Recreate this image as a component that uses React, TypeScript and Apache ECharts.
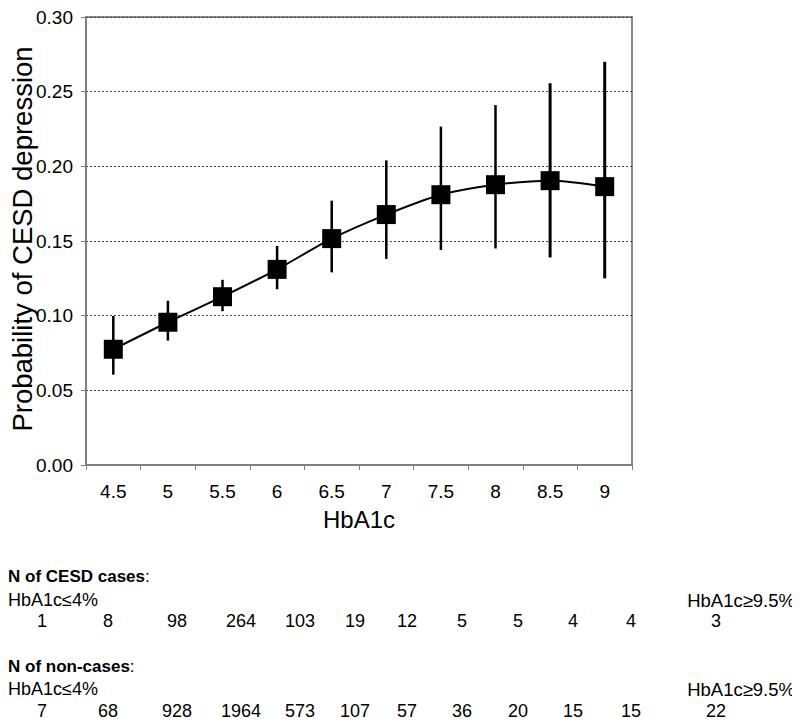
import React, { useEffect, useRef } from "react";
import * as echarts from "echarts";

const categories = ["4.5", "5", "5.5", "6", "6.5", "7", "7.5", "8", "8.5", "9"];
const probability = [0.0775, 0.0956, 0.1127, 0.131, 0.1516, 0.1677, 0.181, 0.1877, 0.1904, 0.1864];
const lowerCI = [0.0605, 0.0833, 0.103, 0.1177, 0.129, 0.138, 0.144, 0.145, 0.139, 0.125];
const upperCI = [0.0998, 0.110, 0.124, 0.1467, 0.177, 0.204, 0.2266, 0.241, 0.2556, 0.270];
const yTicks = [0, 0.05, 0.1, 0.15, 0.2, 0.25, 0.3];
const yAxisTitle = "Probability of CESD depression";

const casesCounts = ["1", "8", "98", "264", "103", "19", "12", "5", "5", "4", "4", "3"];
const nonCasesCounts = ["7", "68", "928", "1964", "573", "107", "57", "36", "20", "15", "15", "22"];
const countColumnsX = [42, 108, 177, 241, 300, 355, 407, 462, 518, 573, 631, 716];

const FONT = "'Liberation Sans', Arial, sans-serif";

export default function App() {
  const ref = useRef<HTMLDivElement>(null);
  useEffect(() => {
    if (!ref.current) return;
    const chart = echarts.init(ref.current, undefined, { renderer: "svg" });

    const graphics: any[] = [];
    const addText = (text: string, x: number, y: number, align: string = "left", rich?: any, size = 18) => {
      graphics.push({
        type: "text",
        x,
        y,
        style: {
          text,
          fontFamily: FONT,
          fontSize: size,
          fill: "#000",
          align,
          verticalAlign: "middle",
          rich,
        },
      });
    };
    const richHead = {
      b: { fontFamily: FONT, fontSize: 17, fontWeight: "bold", fill: "#000" },
      n: { fontFamily: FONT, fontSize: 17, fill: "#000" },
    };
    graphics.push({
      type: "text",
      x: 22,
      y: 239,
      rotation: Math.PI / 2,
      style: {
        text: yAxisTitle,
        fontFamily: FONT,
        fontSize: 27.5,
        fill: "#000",
        align: "center",
        verticalAlign: "middle",
      },
    });
    addText("{b|N of CESD cases}{n|:}", 8, 576, "left", richHead, 17);
    addText("HbA1c≤4%", 8, 600);
    addText("HbA1c≥9.5%", 795, 600, "right", undefined, 18.5);
    casesCounts.forEach((c, i) => addText(c, countColumnsX[i], 621, "center"));
    addText("{b|N of non-cases}{n|:}", 8, 666, "left", richHead, 17);
    addText("HbA1c≤4%", 8, 689);
    addText("HbA1c≥9.5%", 795, 689, "right", undefined, 18.5);
    nonCasesCounts.forEach((c, i) => addText(c, countColumnsX[i], 711, "center"));

    chart.setOption({
      animation: false,
      textStyle: { fontFamily: FONT },
      grid: {
        left: 86,
        right: 168,
        top: 17,
        bottom: 262,
        containLabel: false,
        outerBoundsMode: "none",
        show: true,
        borderColor: "#8a8a8a",
        borderWidth: 2,
        backgroundColor: "transparent",
      },
      xAxis: {
        type: "category",
        data: categories,
        boundaryGap: true,
        name: "HbA1c",
        nameLocation: "middle",
        nameGap: 42,
        nameTextStyle: { fontSize: 24, color: "#000", fontFamily: FONT },
        axisLine: { lineStyle: { color: "#808080", width: 2 } },
        axisTick: { show: true, length: 5, lineStyle: { color: "#808080", width: 1 } },
        axisLabel: { fontSize: 19, color: "#000", margin: 17, fontFamily: FONT },
        splitLine: { show: false },
      },
      yAxis: {
        type: "value",
        min: 0,
        max: 0.3,
        interval: 0.05,
        axisLine: { show: true, lineStyle: { color: "#808080", width: 2 } },
        axisTick: { show: true, length: 5, lineStyle: { color: "#808080", width: 1 } },
        axisLabel: {
          fontSize: 19,
          color: "#000",
          margin: 13,
          fontFamily: FONT,
          formatter: (v: number) => (yTicks.some((t) => Math.abs(t - v) < 1e-9) ? v.toFixed(2) : ""),
        },
        splitLine: { show: true, lineStyle: { color: "#444", width: 1, type: [2, 2] } },
      },
      graphic: graphics,
      series: [
        {
          type: "custom",
          name: "95% CI",
          data: categories.map((_, i) => [i, lowerCI[i], upperCI[i]]),
          encode: { x: 0, y: [1, 2] },
          z: 2,
          renderItem: (params: any, api: any) => {
            const i = api.value(0);
            const lo = api.coord([i, api.value(1)]);
            const hi = api.coord([i, api.value(2)]);
            return {
              type: "line",
              shape: { x1: lo[0], y1: lo[1], x2: hi[0], y2: hi[1] },
              style: { stroke: "#000", lineWidth: i >= 8 ? 3 : 2.5 },
            };
          },
        },
        {
          type: "line",
          name: "Probability",
          data: probability,
          smooth: 0.3,
          symbol: "rect",
          symbolSize: 19,
          z: 3,
          lineStyle: { color: "#000", width: 2 },
          itemStyle: { color: "#000" },
        },
      ],
    });
    return () => chart.dispose();
  }, []);
  return <div ref={ref} style={{ width: 800, height: 727, margin: -8 }} />;
}
